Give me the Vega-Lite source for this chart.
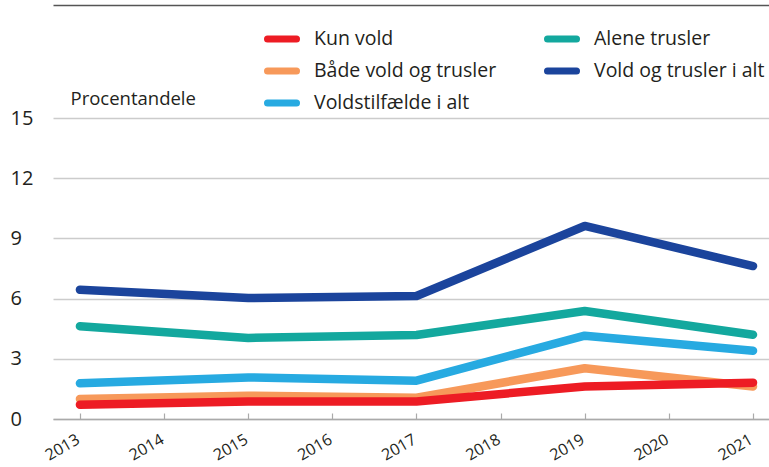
{
  "$schema": "https://vega.github.io/schema/vega-lite/v6.json",
  "width": 716,
  "height": 301,
  "autosize": "none",
  "padding": {"left": 53, "top": 118, "right": 0, "bottom": 48},
  "background": "white",
  "config": {
    "view": {"stroke": null},
    "font": "Open Sans",
    "axis": {"labelFont": "Open Sans", "titleFont": "Open Sans"},
    "legend": {"labelFont": "Open Sans"}
  },
  "datasets": {
    "main": [
      {"year": 2013, "series": "Både vold og trusler", "value": 1.0},
      {"year": 2015, "series": "Både vold og trusler", "value": 1.16},
      {"year": 2017, "series": "Både vold og trusler", "value": 1.06},
      {"year": 2019, "series": "Både vold og trusler", "value": 2.53},
      {"year": 2021, "series": "Både vold og trusler", "value": 1.62},
      {"year": 2013, "series": "Kun vold", "value": 0.71},
      {"year": 2015, "series": "Kun vold", "value": 0.87},
      {"year": 2017, "series": "Kun vold", "value": 0.87},
      {"year": 2019, "series": "Kun vold", "value": 1.62},
      {"year": 2021, "series": "Kun vold", "value": 1.81},
      {"year": 2013, "series": "Voldstilfælde i alt", "value": 1.78},
      {"year": 2015, "series": "Voldstilfælde i alt", "value": 2.07},
      {"year": 2017, "series": "Voldstilfælde i alt", "value": 1.91},
      {"year": 2019, "series": "Voldstilfælde i alt", "value": 4.15},
      {"year": 2021, "series": "Voldstilfælde i alt", "value": 3.4},
      {"year": 2013, "series": "Alene trusler", "value": 4.62},
      {"year": 2015, "series": "Alene trusler", "value": 4.04},
      {"year": 2017, "series": "Alene trusler", "value": 4.19},
      {"year": 2019, "series": "Alene trusler", "value": 5.38},
      {"year": 2021, "series": "Alene trusler", "value": 4.2},
      {"year": 2013, "series": "Vold og trusler i alt", "value": 6.44},
      {"year": 2015, "series": "Vold og trusler i alt", "value": 6.03},
      {"year": 2017, "series": "Vold og trusler i alt", "value": 6.13},
      {"year": 2019, "series": "Vold og trusler i alt", "value": 9.62},
      {"year": 2021, "series": "Vold og trusler i alt", "value": 7.62}
    ]
  },
  "resolve": {"axis": {"x": "independent"}},
  "layer": [
    {
      "data": {"name": "main"},
      "mark": {"type": "line", "strokeWidth": 8.5, "strokeCap": "round", "strokeJoin": "round"},
      "encoding": {
        "x": {
          "field": "year", "type": "quantitative",
          "scale": {"domain": [2012.68, 2021.19], "nice": false, "zero": false},
          "axis": {
            "title": null,
            "values": [2013, 2014, 2015, 2016, 2017, 2018, 2019, 2020, 2021],
            "format": "d",
            "labelAngle": -30,
            "labelAlign": "right",
            "labelBaseline": "top",
            "labelFontSize": 16,
            "labelColor": "#231f20",
            "labelPadding": 18,
            "labelOffset": -6,
            "tickSize": -6,
            "tickColor": "#aaaaaa",
            "tickWidth": 1.2,
            "domainColor": "#aaaaaa",
            "domainWidth": 1.5,
            "grid": false
          }
        },
        "y": {
          "field": "value", "type": "quantitative",
          "scale": {"domain": [0, 15], "nice": false},
          "axis": {
            "title": "Procentandele",
            "titleAngle": 0,
            "titleAlign": "left",
            "titleBaseline": "alphabetic",
            "titleX": 17,
            "titleY": -14,
            "titleFontSize": 18.5,
            "titleFontWeight": "normal",
            "titleColor": "#231f20",
            "values": [0, 3, 6, 9, 12, 15],
            "labelAlign": "left",
            "labelPadding": 43,
            "labelFontSize": 20,
            "labelColor": "#231f20",
            "ticks": false,
            "domain": false,
            "grid": true,
            "gridColor": "#cccccc",
            "gridWidth": 1.5
          }
        },
        "color": {
          "field": "series", "type": "nominal",
          "scale": {
            "domain": ["Kun vold", "Alene trusler", "Både vold og trusler", "Vold og trusler i alt", "Voldstilfælde i alt"],
            "range": ["#ED1C24", "#13A89E", "#F7995A", "#1B449C", "#27AAE1"]
          },
          "legend": {
            "title": null,
            "orient": "none",
            "legendX": 211,
            "legendY": -97,
            "direction": "horizontal",
            "columns": 2,
            "symbolType": "stroke",
            "symbolSize": 841,
            "symbolStrokeWidth": 7,
            "labelFontSize": 19.5,
            "labelColor": "#231f20",
            "labelOffset": 14,
            "labelLimit": 300,
            "rowPadding": -2,
            "columnPadding": 36,
            "encode": {"symbols": {"update": {"strokeCap": {"value": "round"}}}}
          }
        }
      }
    },
    {
      "data": {"name": "main"},
      "mark": {"type": "point", "opacity": 0},
      "encoding": {
        "x": {
          "field": "year", "type": "quantitative",
          "axis": {
            "orient": "top",
            "offset": 113,
            "title": null,
            "labels": false,
            "ticks": false,
            "grid": false,
            "domain": true,
            "domainColor": "#555555",
            "domainWidth": 1.5
          }
        }
      }
    }
  ]
}
